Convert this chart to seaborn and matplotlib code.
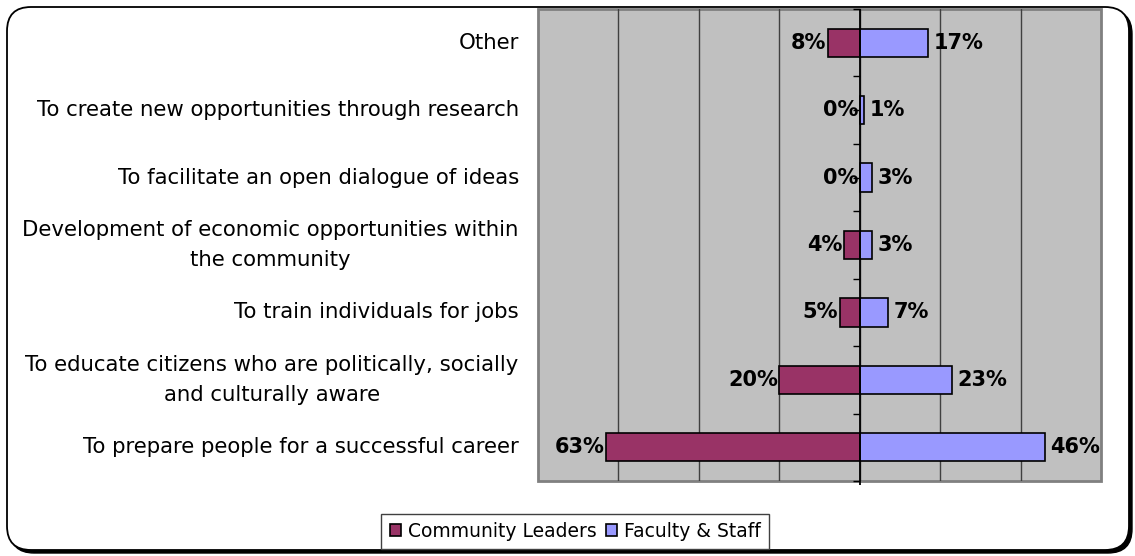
import numpy as np
import pandas as pd
import matplotlib
matplotlib.use("Agg")
import matplotlib.pyplot as plt
import matplotlib.transforms as mtransforms
from matplotlib.patches import FancyBboxPatch, Patch
import seaborn as sns

# Survey responses: share of each group choosing each purpose (%)
categories = [
    "Other",
    "To create new opportunities through research",
    "To facilitate an open dialogue of ideas",
    "Development of economic opportunities within\nthe community",
    "To train individuals for jobs",
    "To educate citizens who are politically, socially\nand culturally aware",
    "To prepare people for a successful career",
]
groups = ["Community Leaders", "Faculty & Staff"]
community_leaders = [8, 0, 0, 4, 5, 20, 63]
faculty_staff = [17, 1, 3, 3, 7, 23, 46]
group_colors = ["#993366", "#9999FF"]

sns.set_theme(style="white")
plt.rcParams["font.family"] = ["DejaVu Sans"]
plt.rcParams["text.color"] = "black"

W, H, DPI = 1135, 556, 100
fig = plt.figure(figsize=(W / DPI, H / DPI), dpi=DPI)
fig.patch.set_facecolor("white")

# Plot area placed in pixel terms
left_px, right_px, top_px, bottom_px = 538, 1101, 9, 481
ax = fig.add_axes([left_px / W, 1 - bottom_px / H,
                   (right_px - left_px) / W, (bottom_px - top_px) / H])

# Long-form table: community leaders plotted to the left (negative side)
df = pd.DataFrame({
    "category": categories * 2,
    "group": [groups[0]] * len(categories) + [groups[1]] * len(categories),
    "value": [-v for v in community_leaders] + list(faculty_staff),
})

sns.barplot(data=df, y="category", x="value", hue="group", hue_order=groups,
            order=categories, dodge=False, palette=group_colors, saturation=1,
            width=0.42, edgecolor="black", linewidth=1.2, orient="h", ax=ax,
            legend=False)

ax.set_xlim(-80, 60)
ax.set_ylim(len(categories) - 0.5, -0.5)
ax.set_facecolor("#C0C0C0")
ax.patch.set_edgecolor("#808080")
ax.patch.set_linewidth(2.0)

# Vertical gridlines every 20%
ax.set_xticks(np.arange(-60, 60, 20))
ax.tick_params(axis="x", length=0, labelbottom=False)
ax.grid(axis="x", color="#404040", linewidth=1.0)
ax.grid(axis="y", visible=False)
ax.set_axisbelow(True)
ax.set_xlabel("")
ax.set_ylabel("")

# Category axis drawn through zero with small outward ticks
for side in ["top", "right", "bottom"]:
    ax.spines[side].set_visible(False)
ax.spines["left"].set_position(("data", 0))
ax.spines["left"].set_color("black")
ax.spines["left"].set_linewidth(1.3)
ax.spines["left"].set_capstyle("butt")
ax.spines["left"].set_bounds(len(categories) - 0.5 + 0.06, -0.5)
ax.set_yticks(np.arange(len(categories)))
ax.set_yticks(np.arange(-0.5, len(categories), 1.0), minor=True)
ax.set_yticklabels([])
ax.tick_params(axis="y", which="both", direction="out", length=5, width=1,
               color="black", left=True, labelleft=False)

# Category labels to the left of the plot area
trans = mtransforms.blended_transform_factory(ax.transAxes, ax.transData)
for i, cat in enumerate(categories):
    ax.text(-0.034, i, cat, transform=trans, ha="right", va="center",
            multialignment="center", fontsize=15.3, color="black",
            linespacing=1.65)

# Value labels at the bar ends
for i, v in enumerate(community_leaders):
    ax.annotate(f"{v}%", xy=(-v, i), xytext=(-1, 0), textcoords="offset points",
                ha="right", va="center", fontsize=15, fontweight="bold",
                color="black", annotation_clip=False)
for i, v in enumerate(faculty_staff):
    ax.annotate(f"{v}%", xy=(v, i), xytext=(4, 0), textcoords="offset points",
                ha="left", va="center", fontsize=15, fontweight="bold",
                color="black", annotation_clip=False)

# Legend below the plot
handles = [Patch(facecolor=c, edgecolor="black", linewidth=1.2) for c in group_colors]
leg = fig.legend(handles, groups, loc="center", bbox_to_anchor=(575 / W, 1 - 531.5 / H),
                 ncol=2, frameon=True, fancybox=False, framealpha=1,
                 edgecolor="#404040", fontsize=13.5, labelcolor="black",
                 handlelength=0.6, handleheight=0.6, handletextpad=0.35,
                 columnspacing=0.5, borderpad=0.45, borderaxespad=0)
leg.get_frame().set_linewidth(1.0)

# Rounded chart frame with a drop shadow
ident = mtransforms.IdentityTransform()
fx, fy, fw, fh = 7, 6, 1122, 543
shadow = FancyBboxPatch((fx + 3, fy - 3), fw, fh,
                        boxstyle="round,pad=0,rounding_size=24",
                        facecolor="black", edgecolor="black", linewidth=1.0,
                        transform=ident, zorder=-3)
frame = FancyBboxPatch((fx, fy), fw, fh,
                       boxstyle="round,pad=0,rounding_size=24",
                       facecolor="white", edgecolor="black", linewidth=1.3,
                       transform=ident, zorder=-2)
fig.add_artist(shadow)
fig.add_artist(frame)

fig.savefig("out.png", dpi=DPI)
